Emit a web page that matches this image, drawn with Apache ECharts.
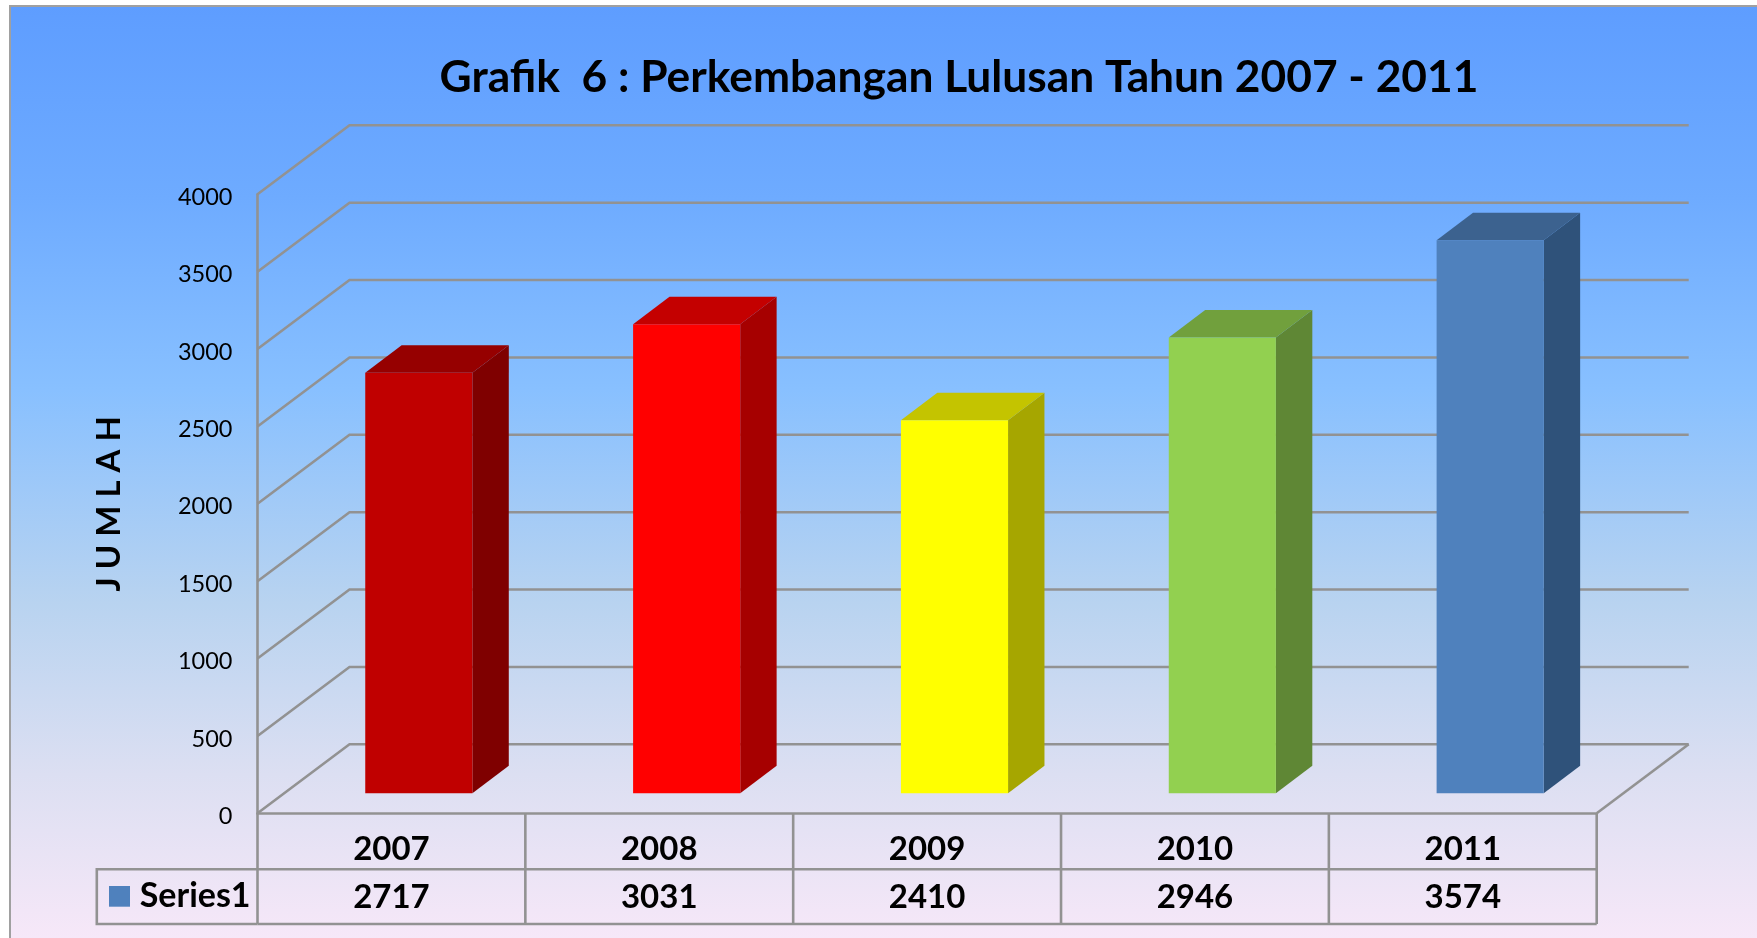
<!DOCTYPE html>
<html><head><meta charset="utf-8">
<style>html,body{margin:0;padding:0;background:#fff}#c{width:1757px;height:938px}</style>
<script src="https://cdn.jsdelivr.net/npm/echarts@6/dist/echarts.min.js"></script>
</head><body><div id="c"></div>
<script>
const categories = ['2007','2008','2009','2010','2011'];
const series1 = [2717,3031,2410,2946,3574];
const yTicks = [0,500,1000,1500,2000,2500,3000,3500,4000];
const seriesName = 'Series1';
const titleText = 'Grafik  6 : Perkembangan Lulusan Tahun 2007 - 2011';
const yName = 'J U M L A H';

const frontColors = ['#C00000','#FF0000','#FFFF00','#92D050','#4F81BD'];
const sideColors  = ['#7F0000','#A60000','#A6A600','#5F8735','#2F527A'];
const topColors   = ['#960000','#C40000','#C4C400','#71A03D','#3C628F'];

const FONT = 'Lato';
const LINE = '#929292';
const LINE_W = 2.6;
const WALL_DX = 92, WALL_DY = 69;
const BAR_OFF_X = 27.4, BAR_OFF_Y = 20;
const BAR_DX = 36.4, BAR_DY = 27.5;
const TABLE_ROW1 = 869.3 - 813.3, TABLE_ROW2 = 924 - 813.3, TABLE_LEFT = 96.8;

const lineStyle = {stroke: LINE, lineWidth: LINE_W};

const chart = echarts.init(document.getElementById('c'), null, {renderer:'canvas'});
chart.setOption({
  animation: false,
  backgroundColor: '#fff',
  title: {
    text: titleText, left: 954, top: 72.5, textAlign: 'center', textVerticalAlign: 'middle',
    textStyle: {fontFamily: FONT, fontWeight: 'bold', fontSize: 44.3, color: '#000'}
  },
  graphic: [{
    type: 'rect', z: -10, silent: true,
    shape: {x: 10, y: 6, width: 1770, height: 960},
    style: {
      stroke: '#A0A0A0', lineWidth: 2,
      fill: new echarts.graphic.LinearGradient(0,0,0,1,[
        {offset: 0, color: '#5E9DFF'},
        {offset: 0.2, color: '#6EABFF'},
        {offset: 0.4, color: '#88C0FF'},
        {offset: 0.62, color: '#B8D3F0'},
        {offset: 0.8, color: '#DCDFF2'},
        {offset: 1, color: '#FBE9F9'}
      ])
    }
  }],
  grid: {left: 257.5, right: 1757-1596.7, top: 194.3, bottom: 938-813.3, containLabel: false},
  xAxis: {
    type: 'category', data: categories,
    axisTick: {show: false},
    axisLine: {show: true, lineStyle: {color: LINE, width: LINE_W}},
    axisLabel: {margin: 20, fontFamily: FONT, fontWeight: 'bold', fontSize: 33, color: '#000'},
    splitLine: {show: false}
  },
  yAxis: {
    type: 'value', min: 0, max: 4000, interval: 500,
    name: yName, nameLocation: 'middle', nameRotate: 90, nameGap: 132,
    nameTextStyle: {fontFamily: FONT, fontWeight: 'bold', fontSize: 33, color: '#000'},
    axisTick: {show: false},
    axisLine: {show: true, lineStyle: {color: LINE, width: LINE_W}},
    axisLabel: {margin: 25, fontFamily: FONT, fontSize: 23.5, color: '#000',
      verticalAlign: 'top', lineHeight: 6, formatter: v => String(v)},
    splitLine: {show: false}
  },
  series: [
    {
      type: 'custom', name: 'walls', z: 1, silent: true, clip: false,
      data: yTicks.map(v => [0, v]),
      encode: {x: 0, y: 1},
      renderItem(params, api) {
        const cs = params.coordSys;
        const p = api.coord([0, api.value(1)]);
        const x0 = cs.x, y0 = p[1];
        const children = [
          {type:'polyline', shape:{points:[[x0,y0],[x0+WALL_DX,y0-WALL_DY],[cs.x+cs.width+WALL_DX,y0-WALL_DY]]}, style:{...lineStyle, fill:null}}
        ];
        if (api.value(1) === 0) {
          children.push({type:'line', shape:{x1:cs.x+cs.width,y1:y0,x2:cs.x+cs.width+WALL_DX,y2:y0-WALL_DY}, style:lineStyle});
        }
        return {type:'group', children};
      }
    },
    {
      type: 'custom', name: seriesName, z: 3, clip: false,
      data: categories.map((c,i) => [i, series1[i]]),
      encode: {x: 0, y: 1},
      renderItem(params, api) {
        const i = api.value(0);
        const w = api.size([1,0])[0] * 0.4;
        const base = api.coord([i, 0]);
        const top = api.coord([i, api.value(1)]);
        const l = base[0] + BAR_OFF_X - w/2, r = l + w;
        const b = base[1] - BAR_OFF_Y, t = top[1] - BAR_OFF_Y;
        const poly = (pts, fill) => ({type:'polygon', shape:{points:pts}, style:{fill}});
        return {type:'group', children:[
          poly([[r,b],[r+BAR_DX,b-BAR_DY],[r+BAR_DX,t-BAR_DY],[r,t]], sideColors[i]),
          poly([[l,t],[r,t],[r+BAR_DX,t-BAR_DY],[l+BAR_DX,t-BAR_DY]], topColors[i]),
          poly([[l,b],[r,b],[r,t],[l,t]], frontColors[i])
        ]};
      }
    },
    {
      type: 'custom', name: 'table', z: 2, silent: true, clip: false,
      data: categories.map((c,i) => [i, series1[i]]),
      encode: {x: 0},
      renderItem(params, api) {
        const cs = params.coordSys;
        const i = api.value(0);
        const p = api.coord([i, 0]);
        const cw = api.size([1,0])[0];
        const xr = p[0] + cw/2, y0 = p[1];
        const children = [
          {type:'line', shape:{x1:xr,y1:y0,x2:xr,y2:y0+TABLE_ROW2}, style:lineStyle},
          {type:'text', style:{text:String(api.value(1)), x:p[0], y:897, align:'center', verticalAlign:'middle',
            font:'bold 33px '+FONT, fill:'#000'}}
        ];
        if (i === 0) {
          children.push(
            {type:'line', shape:{x1:cs.x,y1:y0,x2:cs.x,y2:y0+TABLE_ROW2}, style:lineStyle},
            {type:'polyline', shape:{points:[[cs.x,y0+TABLE_ROW1],[TABLE_LEFT,y0+TABLE_ROW1],[TABLE_LEFT,y0+TABLE_ROW2],[cs.x,y0+TABLE_ROW2]]}, style:{...lineStyle, fill:null}},
            {type:'line', shape:{x1:cs.x,y1:y0+TABLE_ROW1,x2:cs.x+cs.width,y2:y0+TABLE_ROW1}, style:lineStyle},
            {type:'line', shape:{x1:cs.x,y1:y0+TABLE_ROW2,x2:cs.x+cs.width,y2:y0+TABLE_ROW2}, style:lineStyle},
            {type:'rect', shape:{x:109,y:886,width:21,height:20.7}, style:{fill:frontColors[4]}},
            {type:'text', style:{text:seriesName, x:139.7, y:896, align:'left', verticalAlign:'middle',
              font:'bold 34px '+FONT, fill:'#000'}}
          );
        }
        return {type:'group', children};
      }
    }
  ]
});
</script></body></html>
